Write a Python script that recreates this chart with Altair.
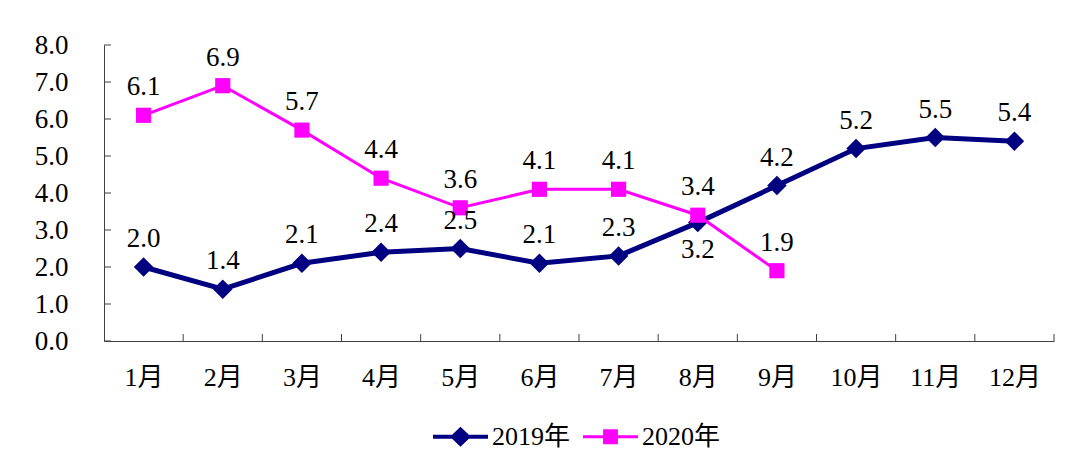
import altair as alt
import pandas as pd

months = ["1月", "2月", "3月", "4月", "5月", "6月", "7月", "8月", "9月", "10月", "11月", "12月"]
series_names = ["2019年", "2020年"]
v2019 = [2.0, 1.4, 2.1, 2.4, 2.5, 2.1, 2.3, 3.2, 4.2, 5.2, 5.5, 5.4]
v2020 = [6.1, 6.9, 5.7, 4.4, 3.6, 4.1, 4.1, 3.4, 1.9]
y_ticks = [0, 1, 2, 3, 4, 5, 6, 7, 8]
labels_below = [("2019年", "8月")]

rows = []
for s, vals in zip(series_names, [v2019, v2020]):
    for i, v in enumerate(vals):
        rows.append({"idx": i + 1, "month": months[i], "series": s, "value": v,
                     "below": (s, months[i]) in labels_below})
df = pd.DataFrame(rows)

xtick_df = pd.DataFrame({"idx": [i + 1.5 for i in range(len(months))]})
ytick_df = pd.DataFrame({"value": y_ticks})

W, H = 950, 296
FONT = "Liberation Serif, Noto Sans CJK SC"
colors = {"2019年": "#000080", "2020年": "#FF00FF"}
shapes = {"2019年": "diamond", "2020年": "square"}
sizes = {"2019年": 380, "2020年": 230}
widths = {"2019年": 5, "2020年": 3}
legend_paths = {
    "2019年": "M-1,-0.075H1V0.075H-1Z M0,-0.36L0.38,0L0,0.36L-0.38,0Z",
    "2020年": "M-1,-0.055H1V0.055H-1Z M-0.27,-0.27H0.27V0.27H-0.27Z",
}
AXIS_COLOR = "#404040"

month_expr = "[" + ",".join("'%s'" % m for m in months) + "][datum.value - 1]"

x_enc = alt.X("idx:Q",
              scale=alt.Scale(domain=[0.5, len(months) + 0.5], nice=False, zero=False),
              axis=alt.Axis(values=list(range(1, len(months) + 1)), labelExpr=month_expr,
                            title=None, grid=False, ticks=False, tickSize=0, labelPadding=23,
                            labelFont=FONT, labelFontSize=26, labelColor="#000",
                            domainColor=AXIS_COLOR, labelFlush=False, labelOverlap=False))
y_enc = alt.Y("value:Q",
              scale=alt.Scale(domain=[0, 8], nice=False),
              axis=alt.Axis(values=y_ticks, format=".1f", title=None, grid=False,
                            ticks=False, tickSize=0, labelPadding=36,
                            labelFont=FONT, labelFontSize=27, labelColor="#000",
                            domainColor=AXIS_COLOR))

layers = []

# inward ticks
layers.append(alt.Chart(ytick_df).mark_rule(color=AXIS_COLOR, strokeWidth=1).encode(
    y=y_enc, x=alt.value(0), x2=alt.value(7)))
layers.append(alt.Chart(xtick_df).mark_rule(color=AXIS_COLOR, strokeWidth=1).encode(
    x=x_enc, y=alt.value(H), y2=alt.value(H - 7)))

for s in series_names:
    sub = alt.Chart(df).transform_filter(alt.datum.series == s)
    layers.append(sub.mark_line(color=colors[s], strokeWidth=widths[s]).encode(x=x_enc, y=y_enc))
    layers.append(sub.mark_point(shape=shapes[s], filled=True, opacity=1, color=colors[s],
                                 size=sizes[s]).encode(x=x_enc, y=y_enc))

for s in series_names:
    sub = alt.Chart(df).transform_filter(alt.datum.series == s)
    layers.append(sub.transform_filter("!datum.below").mark_text(
        font=FONT, fontSize=27, color="#000", dy=-28, baseline="middle").encode(
        x=x_enc, y=y_enc, text=alt.Text("value:Q", format=".1f")))
    layers.append(sub.transform_filter("datum.below").mark_text(
        font=FONT, fontSize=27, color="#000", dy=27, baseline="middle").encode(
        x=x_enc, y=y_enc, text=alt.Text("value:Q", format=".1f")))

leg = alt.Legend(title=None, orient="none", legendX=329, legendY=364, direction="horizontal",
                 symbolSize=3025, symbolStrokeWidth=0, symbolOpacity=1,
                 labelFont=FONT, labelFontSize=26, labelColor="#000",
                 labelOffset=4, columnPadding=12)
layers.append(alt.Chart(df).mark_point(filled=True, opacity=0, strokeWidth=0).encode(
    x=x_enc, y=y_enc,
    fill=alt.Fill("series:N", scale=alt.Scale(domain=series_names,
                                              range=[colors[s] for s in series_names]), legend=leg),
    shape=alt.Shape("series:N", scale=alt.Scale(domain=series_names,
                                                range=[legend_paths[s] for s in series_names]), legend=leg),
))

chart = alt.layer(*layers).properties(
    width=W, height=H,
    padding={"left": 104, "top": 45, "right": 26, "bottom": 124},
    autosize=alt.AutoSizeParams(type="none"),
    background="white",
).configure_view(stroke=None)

chart.save("out.html", embed_options={"renderer": "svg", "actions": False})
